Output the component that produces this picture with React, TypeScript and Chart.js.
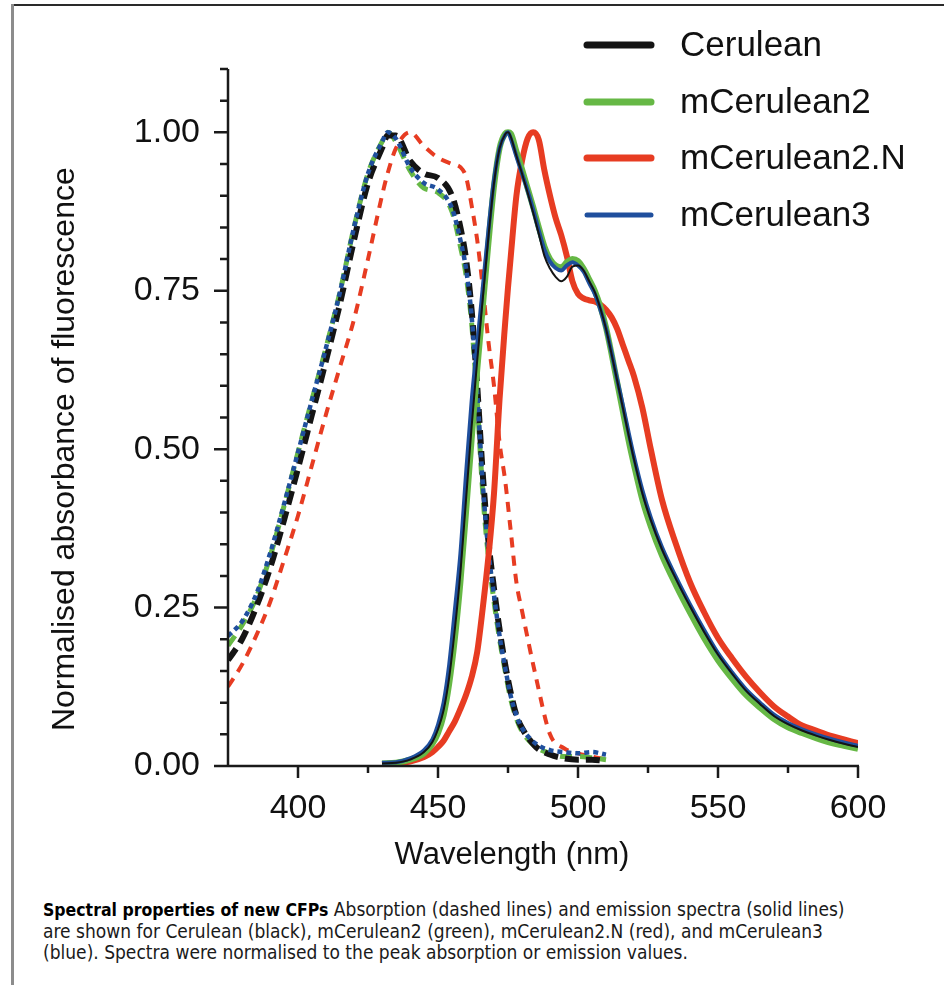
import React, { useEffect, useRef } from "react";
import { Chart, registerables } from "chart.js";

Chart.register(...registerables);

// ---------- data ----------
const SERIES_NAMES = ["Cerulean", "mCerulean2", "mCerulean2.N", "mCerulean3"];
const SERIES_COLORS = ["#141414", "#66b845", "#e73c22", "#1f4f9d"];

const X_TICKS = [400, 450, 500, 550, 600];
const Y_TICKS = [0, 0.25, 0.5, 0.75, 1.0];

// absorption spectra (dashed)
const ABS_NM = [375, 380, 385, 390, 395, 400, 405, 410, 415, 420, 425, 430, 432, 435, 440, 445, 450, 455, 458, 460, 462, 464, 466, 468, 470, 472, 474, 476, 478, 480, 485, 490, 495, 500, 505, 510];
const ABS_CERULEAN = [0.167, 0.2, 0.25, 0.312, 0.388, 0.47, 0.555, 0.64, 0.73, 0.83, 0.92, 0.975, 0.995, 0.995, 0.955, 0.935, 0.928, 0.9, 0.85, 0.8, 0.72, 0.6, 0.46, 0.355, 0.28, 0.215, 0.16, 0.115, 0.08, 0.06, 0.03, 0.018, 0.012, 0.01, 0.01, 0.008];
const ABS_MCER2 = [0.19, 0.222, 0.265, 0.33, 0.41, 0.495, 0.578, 0.66, 0.748, 0.85, 0.935, 0.985, 1.0, 0.985, 0.94, 0.912, 0.905, 0.875, 0.82, 0.775, 0.7, 0.575, 0.43, 0.33, 0.26, 0.2, 0.15, 0.105, 0.075, 0.055, 0.03, 0.02, 0.015, 0.015, 0.013, 0.01];
const ABS_MCER2N = [0.125, 0.16, 0.205, 0.258, 0.325, 0.395, 0.475, 0.555, 0.63, 0.705, 0.8, 0.9, 0.935, 0.975, 1.0, 0.978, 0.96, 0.95, 0.945, 0.93, 0.885, 0.83, 0.755, 0.67, 0.6, 0.51, 0.45, 0.37, 0.29, 0.245, 0.14, 0.05, 0.028, 0.02, 0.015, 0.01];
const ABS_MCER3 = [0.205, 0.228, 0.27, 0.335, 0.413, 0.495, 0.578, 0.66, 0.748, 0.85, 0.935, 0.985, 1.0, 0.99, 0.945, 0.92, 0.91, 0.88, 0.83, 0.785, 0.71, 0.59, 0.445, 0.34, 0.27, 0.205, 0.155, 0.11, 0.08, 0.06, 0.035, 0.025, 0.022, 0.02, 0.022, 0.018];

// emission spectra (solid)
const EM_NM = [430, 435, 440, 445, 448, 450, 452, 454, 456, 458, 460, 462, 464, 466, 468, 470, 472, 474, 475, 476, 478, 480, 482, 484, 486, 488, 490, 492, 494, 496, 498, 500, 502, 504, 506, 508, 510, 512, 514, 516, 518, 520, 523, 526, 530, 535, 540, 545, 550, 555, 560, 565, 570, 575, 580, 585, 590, 595, 600];
const EM_CERULEAN = [0.004, 0.005, 0.01, 0.022, 0.038, 0.058, 0.088, 0.14, 0.215, 0.305, 0.42, 0.535, 0.64, 0.738, 0.835, 0.92, 0.975, 0.997, 1.0, 0.993, 0.963, 0.935, 0.905, 0.873, 0.84, 0.805, 0.785, 0.772, 0.765, 0.772, 0.788, 0.79, 0.782, 0.765, 0.748, 0.722, 0.69, 0.65, 0.608, 0.566, 0.524, 0.484, 0.43, 0.388, 0.342, 0.295, 0.252, 0.212, 0.176, 0.146, 0.119, 0.098, 0.079, 0.066, 0.056, 0.048, 0.041, 0.035, 0.03];
const EM_MCER2 = [0.004, 0.005, 0.01, 0.02, 0.035, 0.052, 0.08, 0.13, 0.2, 0.29, 0.4, 0.515, 0.625, 0.725, 0.825, 0.915, 0.975, 0.998, 1.0, 0.998, 0.97, 0.942, 0.912, 0.882, 0.85, 0.82, 0.8, 0.79, 0.787, 0.795, 0.8, 0.797, 0.785, 0.768, 0.75, 0.725, 0.692, 0.65, 0.605, 0.56, 0.515, 0.475, 0.42, 0.378, 0.332, 0.285, 0.242, 0.202, 0.167, 0.138, 0.112, 0.092, 0.074, 0.061, 0.052, 0.044, 0.037, 0.032, 0.027];
const EM_MCER2N = [0.003, 0.004, 0.007, 0.014, 0.022, 0.03, 0.04, 0.055, 0.07, 0.09, 0.112, 0.14, 0.18, 0.25, 0.33, 0.43, 0.58, 0.7, 0.755, 0.805, 0.9, 0.955, 0.99, 1.0, 0.988, 0.94, 0.9, 0.865, 0.838, 0.805, 0.765, 0.745, 0.738, 0.735, 0.733, 0.728, 0.72, 0.708, 0.69, 0.665, 0.64, 0.615, 0.565, 0.5, 0.42, 0.35, 0.29, 0.243, 0.202, 0.17, 0.141, 0.116, 0.094, 0.078, 0.064, 0.056, 0.048, 0.042, 0.036];
const EM_MCER3 = [0.005, 0.006, 0.012, 0.025, 0.042, 0.065, 0.1, 0.16, 0.245, 0.335, 0.46, 0.575, 0.665, 0.755, 0.845, 0.925, 0.975, 0.996, 1.0, 0.99, 0.962, 0.935, 0.908, 0.878, 0.845, 0.815, 0.796, 0.786, 0.782, 0.79, 0.795, 0.79, 0.78, 0.762, 0.745, 0.72, 0.69, 0.652, 0.61, 0.57, 0.528, 0.488, 0.435, 0.392, 0.345, 0.298, 0.255, 0.215, 0.178, 0.148, 0.121, 0.1, 0.081, 0.068, 0.058, 0.05, 0.043, 0.037, 0.032];

const FONT = '"Liberation Sans", Arial, Helvetica, sans-serif';

const pts = (xs: number[], ys: number[]) => xs.map((x, i) => ({ x, y: ys[i] }));

const decorPlugin = {
  id: "decor",
  afterDraw(chart: any) {
    const ctx = chart.ctx as CanvasRenderingContext2D;
    const xs = chart.scales.x;
    const ys = chart.scales.y;
    const { left, right, top, bottom } = chart.chartArea;
    ctx.save();
    ctx.strokeStyle = "#1a1a1a";
    ctx.lineWidth = 2.5;
    ctx.lineCap = "butt";
    ctx.beginPath();
    ctx.moveTo(left, top);
    ctx.lineTo(left, bottom);
    ctx.lineTo(right + 1, bottom);
    // y ticks every 0.05
    for (let i = 0; i <= 22; i++) {
      const v = i * 0.05;
      const major = Y_TICKS.some((t) => Math.abs(t - v) < 1e-6);
      const py = ys.getPixelForValue(v);
      ctx.moveTo(left - (major ? 14 : 8), py);
      ctx.lineTo(left, py);
    }
    // x ticks every 25
    for (let v = 400; v <= 600; v += 25) {
      const major = X_TICKS.includes(v);
      const px = xs.getPixelForValue(v);
      ctx.moveTo(px, bottom);
      ctx.lineTo(px, bottom + (major ? 12 : 7));
    }
    ctx.stroke();

    // axis titles
    ctx.fillStyle = "#111";
    ctx.font = `32px ${FONT}`;
    ctx.textAlign = "center";
    ctx.textBaseline = "middle";
    ctx.save();
    ctx.translate(65, ys.getPixelForValue(0.5));
    ctx.rotate(-Math.PI / 2);
    ctx.fillText("Normalised absorbance of fluorescence", 0, 0);
    ctx.restore();
    ctx.font = `31px ${FONT}`;
    ctx.fillText("Wavelength (nm)", 512, 855);

    // legend
    const ly = [45, 102, 158, 215];
    const lw = [7, 7, 7, 5];
    ctx.font = `35px ${FONT}`;
    ctx.textAlign = "left";
    SERIES_NAMES.forEach((name, i) => {
      ctx.strokeStyle = SERIES_COLORS[i];
      ctx.lineWidth = lw[i];
      ctx.lineCap = "round";
      ctx.beginPath();
      ctx.moveTo(587, ly[i]);
      ctx.lineTo(651, ly[i]);
      ctx.stroke();
      ctx.fillStyle = "#111";
      ctx.fillText(name, 680, ly[i] + 1);
    });
    ctx.restore();
  },
};

export default function App() {
  const ref = useRef<HTMLCanvasElement | null>(null);

  useEffect(() => {
    if (!ref.current) return;
    const W = 944;
    const H = 880;
    const plotLeft = 228;
    const plotRight = 858;
    const plotTop = 69;
    const plotBottom = 766;

    const line = (label: string, data: any[], color: string, width: number, dash: number[]) => ({
      label,
      data,
      borderColor: color,
      backgroundColor: color,
      borderWidth: width,
      borderDash: dash,
      pointRadius: 0,
      fill: false,
      cubicInterpolationMode: "monotone",
      borderCapStyle: "butt",
      borderJoinStyle: "round",
    });

    // first dataset drawn on top
    const datasets = [
      line("Cerulean emission", pts(EM_NM, EM_CERULEAN), SERIES_COLORS[0], 2, []),
      line("mCerulean3 emission", pts(EM_NM, EM_MCER3), SERIES_COLORS[3], 4, []),
      line("mCerulean2 emission", pts(EM_NM, EM_MCER2), SERIES_COLORS[1], 6, []),
      line("mCerulean2.N emission", pts(EM_NM, EM_MCER2N), SERIES_COLORS[2], 6, []),
      line("mCerulean3 absorption", pts(ABS_NM, ABS_MCER3), SERIES_COLORS[3], 4.5, [5, 4]),
      line("Cerulean absorption", pts(ABS_NM, ABS_CERULEAN), SERIES_COLORS[0], 6, [14, 7]),
      line("mCerulean2 absorption", pts(ABS_NM, ABS_MCER2), SERIES_COLORS[1], 5, [12, 8]),
      line("mCerulean2.N absorption", pts(ABS_NM, ABS_MCER2N), SERIES_COLORS[2], 4, [10, 8]),
    ];

    const chart = new Chart(ref.current, {
      type: "line",
      data: { datasets } as any,
      options: {
        responsive: false,
        animation: false,
        devicePixelRatio: 1,
        layout: { padding: { left: 0, top: plotTop, right: W - plotRight, bottom: 0 } },
        plugins: { legend: { display: false }, tooltip: { enabled: false }, title: { display: false } },
        scales: {
          x: {
            type: "linear",
            min: 375,
            max: 600,
            grid: { display: false },
            border: { display: false },
            afterBuildTicks: (s: any) => {
              s.ticks = X_TICKS.map((v) => ({ value: v }));
            },
            afterFit: (s: any) => {
              s.height = H - plotBottom;
            },
            ticks: {
              padding: 14,
              maxRotation: 0,
              autoSkip: false,
              color: "#111",
              font: { family: FONT, size: 34 },
              callback: (v: any) => String(v),
            },
          },
          y: {
            type: "linear",
            min: 0,
            max: 1.1,
            grid: { display: false },
            border: { display: false },
            afterBuildTicks: (s: any) => {
              s.ticks = Y_TICKS.map((v) => ({ value: v }));
            },
            afterFit: (s: any) => {
              s.width = plotLeft;
            },
            ticks: {
              padding: 20,
              autoSkip: false,
              color: "#111",
              font: { family: FONT, size: 34 },
              callback: (v: any) => Number(v).toFixed(2),
            },
          },
        },
      } as any,
      plugins: [decorPlugin],
    });
    return () => chart.destroy();
  }, []);

  return (
    <div style={{ position: "absolute", left: 0, top: 0, width: 944, height: 985, background: "#fff", overflow: "hidden" }}>
      <div style={{ position: "absolute", left: 12, top: 4, width: 932, height: 2, background: "#2a2a2a" }} />
      <div style={{ position: "absolute", left: 11, top: 4, width: 3, height: 981, background: "#8c8c8c" }} />
      <canvas ref={ref} width={944} height={880} style={{ position: "absolute", left: 0, top: 0, width: 944, height: 880 }} />
      <div
        style={{
          position: "absolute",
          left: 43,
          top: 899,
          fontFamily: '"DejaVu Sans Condensed", "Liberation Sans", sans-serif',
          fontSize: 19,
          lineHeight: "21px",
          color: "#1a1a1a",
          whiteSpace: "nowrap",
        }}
      >
        <span style={{ fontWeight: 700, fontSize: 17.5, color: "#000" }}>Spectral properties of new CFPs</span> Absorption (dashed lines) and emission spectra (solid lines)
        <br />
        are shown for Cerulean (black), mCerulean2 (green), mCerulean2.N (red), and mCerulean3
        <br />
        (blue). Spectra were normalised to the peak absorption or emission values.
      </div>
    </div>
  );
}
